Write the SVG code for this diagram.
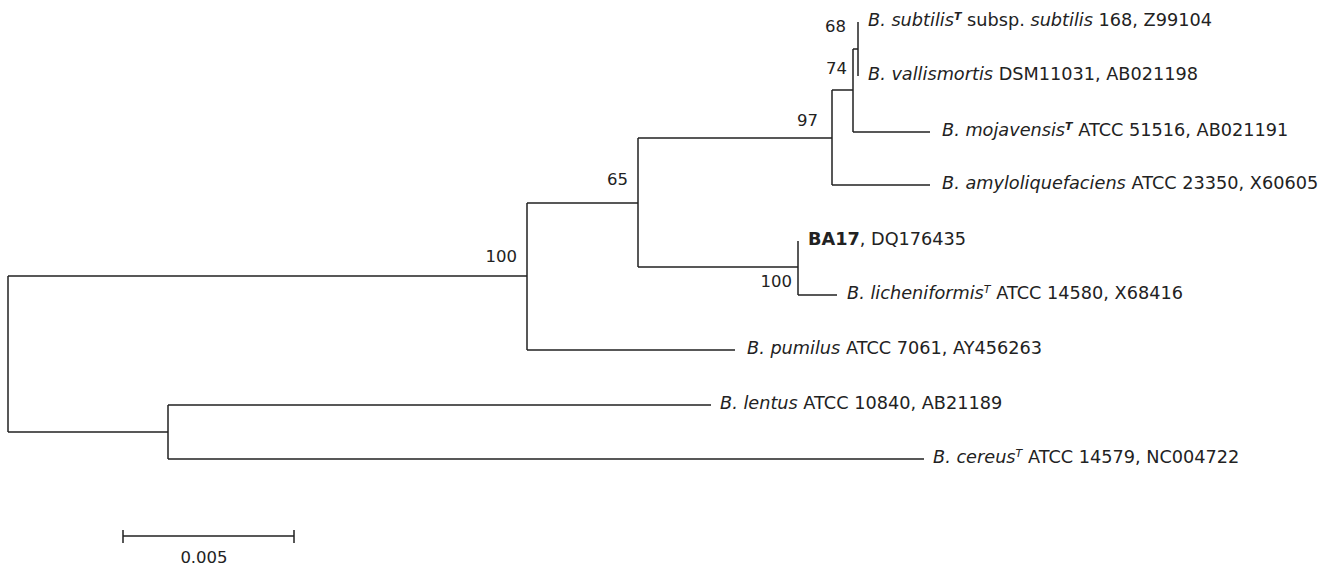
<svg xmlns="http://www.w3.org/2000/svg" width="1319" height="568" viewBox="0 0 1319 568">
<style>
.t{font-family:"DejaVu Sans",Verdana,sans-serif;font-size:17.7px;fill:#222}
.n{font-family:"DejaVu Sans",Verdana,sans-serif;font-size:16.5px;fill:#222}
.br{fill:none;stroke:#222;stroke-width:1.5}
.i{font-style:italic}
.sup{font-size:11px;font-style:italic}
</style>
<rect width="1319" height="568" fill="#fff"/>
<g id="connectors" class="br">
<path d="M8,276 V432 M8,276 H527 M8,432 H168"/>
<path d="M527,203 V350 M527,203 H638 M527,350 H735"/>
<path d="M638,138 V267 M638,138 H832 M638,267 H798"/>
<path d="M832,90 V185 M832,90 H853 M832,185 H930"/>
<path d="M853,49 V132 M853,49 H858 M853,132 H930"/>
<path d="M858,22 V76"/>
<path d="M798,241 V295 M798,295 H837"/>
<path d="M168,405 V459 M168,405 H711 M168,459 H924"/>
</g>
<g id="leaf-subtilis"><text class="t" x="868" y="26"><tspan class="i">B. subtilis</tspan><tspan class="sup" font-weight="bold" dy="-6">T</tspan><tspan dy="6"> subsp. </tspan><tspan class="i">subtilis</tspan> 168, Z99104</text></g>
<g id="leaf-vallismortis"><text class="t" x="868" y="80"><tspan class="i">B. vallismortis</tspan> DSM11031, AB021198</text></g>
<g id="leaf-mojavensis"><text class="t" x="942" y="136"><tspan class="i">B. mojavensis</tspan><tspan class="sup" font-weight="bold" dy="-6">T</tspan><tspan dy="6"> ATCC 51516, AB021191</tspan></text></g>
<g id="leaf-amyloliquefaciens"><text class="t" x="942" y="189"><tspan class="i">B. amyloliquefaciens</tspan> ATCC 23350, X60605</text></g>
<g id="leaf-BA17"><text class="t" x="808" y="245"><tspan font-weight="bold">BA17</tspan>, DQ176435</text></g>
<g id="leaf-licheniformis"><text class="t" x="847" y="299"><tspan class="i">B. licheniformis</tspan><tspan class="sup" dy="-6">T</tspan><tspan dy="6"> ATCC 14580, X68416</tspan></text></g>
<g id="leaf-pumilus"><text class="t" x="747" y="354"><tspan class="i">B. pumilus</tspan> ATCC 7061, AY456263</text></g>
<g id="leaf-lentus"><text class="t" x="720" y="409"><tspan class="i">B. lentus</tspan> ATCC 10840, AB21189</text></g>
<g id="leaf-cereus"><text class="t" x="933" y="463"><tspan class="i">B. cereus</tspan><tspan class="sup" dy="-6">T</tspan><tspan dy="6"> ATCC 14579, NC004722</tspan></text></g>
<g id="bootstrap">
<text class="n" x="846" y="32" text-anchor="end">68</text>
<text class="n" x="847" y="74" text-anchor="end">74</text>
<text class="n" x="818" y="126" text-anchor="end">97</text>
<text class="n" x="628" y="185" text-anchor="end">65</text>
<text class="n" x="517" y="262" text-anchor="end">100</text>
<text class="n" x="792" y="287" text-anchor="end">100</text>
</g>
<g id="scale">
<path class="br" d="M123,536 H294 M123,530 V543 M294,530 V543"/>
<text class="n" x="204" y="563" text-anchor="middle">0.005</text>
</g>
</svg>
